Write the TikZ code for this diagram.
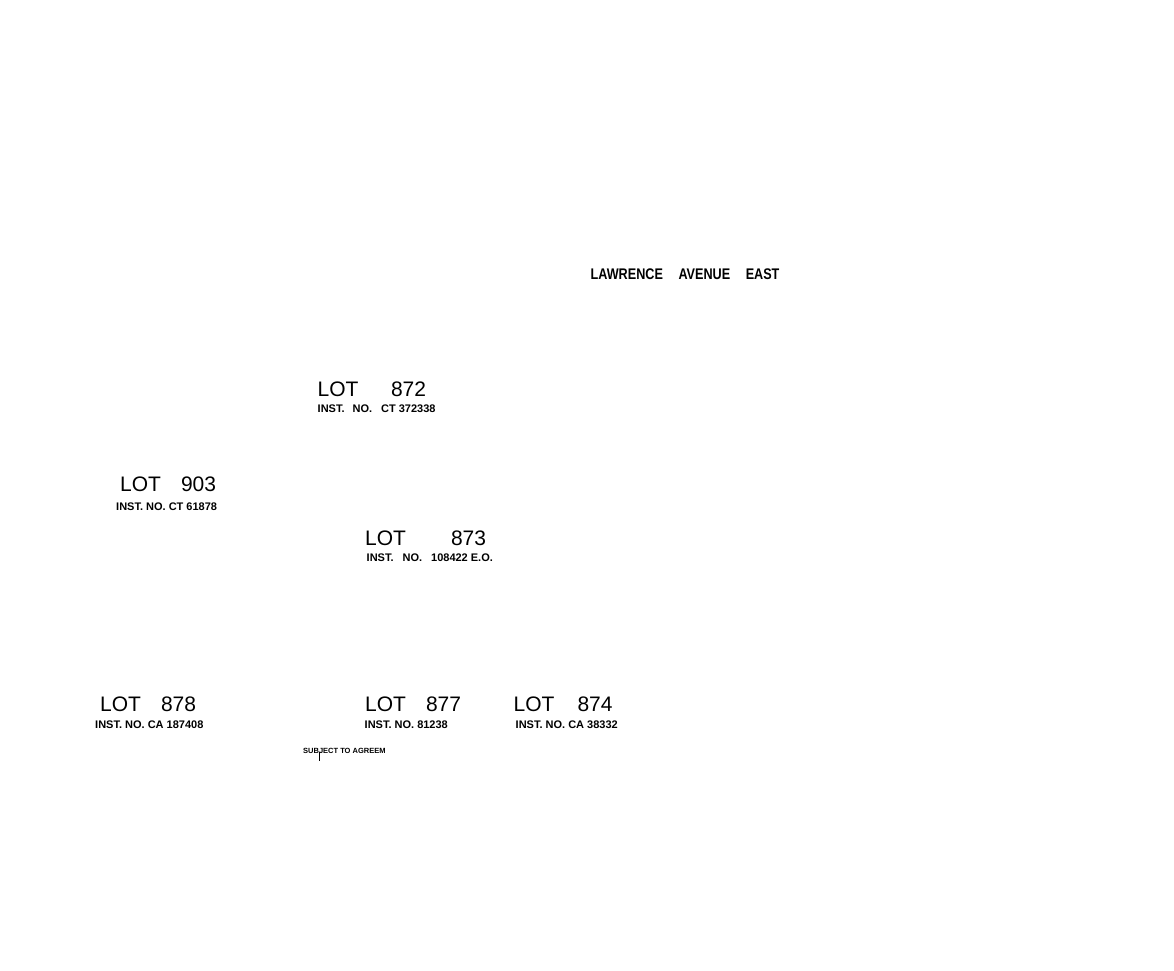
\documentclass[tikz,border=0pt]{standalone}
\usepackage{fontspec}
\setmainfont{Liberation Sans}
\usepackage{xcolor}
\usetikzlibrary{positioning}
\tikzset{
	lotlbl/.style={anchor=base west, inner sep=0pt, font=\fontsize{21}{21}\selectfont},
	instlbl/.style={anchor=base west, inner sep=0pt, font=\fontsize{11}{11}\selectfont\bfseries},
	streetlbl/.style={anchor=base west, inner sep=0pt, xscale=0.82, font=\fontsize{15.4}{15.4}\selectfont\bfseries},
	notelbl/.style={anchor=base west, inner sep=0pt, font=\fontsize{7.5}{7.5}\selectfont\bfseries}
}
\begin{document}
\begin{tikzpicture}[x=1pt, y=-1pt]
	\useasboundingbox (0,0) rectangle (1174,970);
				% street
	\node[streetlbl] (street) at (590.5,279) {LAWRENCE\hspace{19pt}AVENUE\hspace{19pt}EAST};
				% upper lots
	\node[lotlbl] (lot872) at (317.5,396) {LOT\hspace{32.5pt}872};
	\node[instlbl] (inst872) at (317.5,412) {INST.\hspace{8pt}NO.\hspace{9pt}CT 372338};
	\node[lotlbl] (lot903) at (120,491) {LOT\hspace{20pt}903};
	\node[instlbl] (inst903) at (116,510) {INST. NO. CT 61878};
	\node[lotlbl] (lot873) at (365,545) {LOT\hspace{45pt}873};
	\node[instlbl] (inst873) at (366.5,561) {INST.\hspace{9pt}NO.\hspace{9pt}108422 E.O.};
				% lower lots
	\node[lotlbl] (lot878) at (100,711) {LOT\hspace{20pt}878};
	\node[instlbl] (inst878) at (95,728) {INST. NO. CA 187408};
	\node[lotlbl] (lot877) at (365,711) {LOT\hspace{20pt}877};
	\node[instlbl] (inst877) at (364.5,728) {INST. NO. 81238};
	\node[lotlbl] (lot874) at (513.5,711) {LOT\hspace{23pt}874};
	\node[instlbl] (inst874) at (515.5,728) {INST. NO. CA 38332};
				% note
	\node[notelbl] (note) at (303,753) {SUBJECT TO AGREEM};
	\coordinate (ticktop) at (319.5,752);
	\coordinate (tickbot) at (319.5,761);
	\draw[line width=1pt] (ticktop) -- (tickbot);
\end{tikzpicture}
\end{document}
